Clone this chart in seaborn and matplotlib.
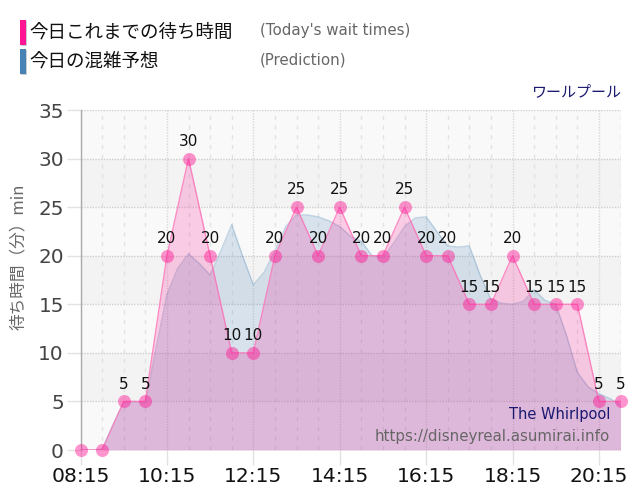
import matplotlib
matplotlib.use("Agg")
import matplotlib.pyplot as plt
from matplotlib.patches import Rectangle
import seaborn as sns
import pandas as pd

sns.set_style("white")
JP = ["Noto Sans CJK JP", "DejaVu Sans"]
plt.rcParams["font.family"] = JP

# Hours after midnight
actual_hours = [8.25, 8.75, 9.25, 9.75, 10.25, 10.75, 11.25, 11.75, 12.25, 12.75, 13.25, 13.75, 14.25,
                14.75, 15.25, 15.75, 16.25, 16.75, 17.25, 17.75, 18.25, 18.75, 19.25, 19.75, 20.25, 20.75]
actual_wait = [0, 0, 5, 5, 20, 30, 20, 10, 10, 20, 25, 20, 25,
               20, 20, 25, 20, 20, 15, 15, 20, 15, 15, 15, 5, 5]
predict_hours = [8.25, 8.5, 8.75, 9.0, 9.25, 9.5, 9.75, 10.0, 10.25, 10.5, 10.75, 11.0, 11.25, 11.5, 11.75,
                 12.0, 12.25, 12.5, 12.75, 13.0, 13.25, 13.5, 13.75, 14.0, 14.25, 14.5, 14.75, 15.0, 15.25,
                 15.5, 15.75, 16.0, 16.25, 16.5, 16.75, 17.0, 17.25, 17.5, 17.75, 18.0, 18.25, 18.5, 18.75,
                 19.0, 19.25, 19.5, 19.75, 20.0, 20.25, 20.5, 20.75]
predict_wait = [0, 0, 0.1, 2.6, 4.9, 5.0, 4.8, 10.5, 16, 18.7, 20.2, 19.2, 18, 20.5, 23.2,
                20, 17, 18.3, 20.5, 23, 24.2, 24.2, 24, 23.6, 23, 22, 21.5, 20, 19.8,
                21.3, 23, 23.9, 24, 22.5, 21, 20.9, 21, 18, 15.5, 15.1, 15, 15.3, 16.5,
                15.4, 15, 11.8, 8, 6.5, 5.8, 5.3, 4.7]
major_hours = [8.25, 10.25, 12.25, 14.25, 16.25, 18.25, 20.25]
major_labels = ["08:15", "10:15", "12:15", "14:15", "16:15", "18:15", "20:15"]
y_ticks = [0, 5, 10, 15, 20, 25, 30, 35]
legend_jp = ["今日これまでの待ち時間", "今日の混雑予想"]
legend_en = ["(Today's wait times)", "(Prediction)"]
PINK = "#ff1493"
BLUE = "#4682b4"

actual = pd.DataFrame({"h": actual_hours, "w": actual_wait})
pred = pd.DataFrame({"h": predict_hours, "w": predict_wait})

fig = plt.figure(figsize=(6.4, 5.0), dpi=100)
ax = fig.add_axes([80.5 / 640, 1 - 450 / 500, (620.5 - 80.5) / 640, 340 / 500])
ax.set_xlim(8.25, 20.75)
ax.set_ylim(0, 35)

# alternating bands
for i, lo in enumerate(range(0, 35, 5)):
    ax.axhspan(lo, lo + 5, color="#f9f9f9" if i % 2 == 0 else "#f3f3f3", lw=0, zorder=0)

# grid
for h in actual_hours:
    if h not in major_hours:
        ax.axvline(h, color="#e2e2e2", lw=1, ls=(0, (3, 4)), zorder=1)
for h in major_hours:
    ax.axvline(h, color="#d8d8d8", lw=1, ls=(0, (1, 1)), zorder=1)
ax.axvline(20.75, color="#e2e2e2", lw=1, ls=(0, (3, 4)), zorder=1)
for y in y_ticks:
    ax.axhline(y, color="#cfcfcf", lw=1, ls=(0, (1, 1)), zorder=1)

ax.fill_between(pred["h"], 0, pred["w"], color=BLUE, alpha=0.19, lw=0, zorder=2)
sns.lineplot(data=pred, x="h", y="w", ax=ax, color=BLUE, alpha=0.3, lw=1, zorder=3, errorbar=None)
ax.fill_between(actual["h"], 0, actual["w"], color=PINK, alpha=0.2, lw=0, zorder=4)
sns.lineplot(data=actual, x="h", y="w", ax=ax, color="#ff69b4", alpha=0.75, lw=1, zorder=5, errorbar=None)
sns.scatterplot(data=actual, x="h", y="w", ax=ax, color=PINK, alpha=0.45, s=88, linewidth=0, zorder=6, clip_on=False)

for h, w in zip(actual_hours, actual_wait):
    if w > 0:
        ax.annotate(str(w), (h, w), xytext=(0, 7), textcoords="offset points", ha="center", va="bottom",
                    fontsize=11, color="#111111", family="DejaVu Sans", zorder=7)

for s in ("top", "right", "bottom"):
    ax.spines[s].set_visible(False)
ax.spines["left"].set_color("#aaaaaa")
ax.spines["left"].set_linewidth(1)
ax.set_xlabel("")
ax.set_ylabel("")
ax.set_xticks(major_hours, major_labels, fontsize=14.6, color="#111111", family="DejaVu Sans")
ax.set_yticks(y_ticks, [str(y) for y in y_ticks], fontsize=14.4, color="#444444", family="DejaVu Sans")
ax.tick_params(axis="x", length=11, width=1, color="#e2e2e2", pad=1)
ax.tick_params(axis="y", length=10, width=1, color="#e2e2e2", pad=2)
ax.tick_params(left=True, bottom=True)

def px(x, y):
    return x / 640, 1 - y / 500

fig.text(*px(18, 257), "待ち時間（分）min", rotation=90, ha="center", va="center", fontsize=12, color="#666666", family=JP)

fig.text(*px(621, 92), "ワールプール", ha="right", va="center", fontsize=10.8, color="#191970", family=JP)
fig.text(*px(610, 415), "The Whirlpool", ha="right", va="center", fontsize=10.5, color="#191970", family="DejaVu Sans", zorder=8)
fig.text(*px(610, 436), "https://disneyreal.asumirai.info", ha="right", va="center", fontsize=10.8, color="#666666", family="DejaVu Sans", zorder=8)

for i, (c, jp, en) in enumerate(zip((PINK, BLUE), legend_jp, legend_en)):
    top = 20 + 29 * i
    fig.add_artist(Rectangle(px(21, top + 26), 6 / 640, 25 / 500, transform=fig.transFigure, color="#cccccc", lw=0))
    fig.add_artist(Rectangle(px(20, top + 25), 6 / 640, 25 / 500, transform=fig.transFigure, color=c, lw=0))
    fig.text(*px(29, top + 13), jp, ha="left", va="center", fontsize=13.3, color="#111111", family=JP)
    fig.text(*px(260, top + 11), en, ha="left", va="center", fontsize=10.8, color="#666666", family="DejaVu Sans")

fig.savefig("out.png", dpi=100)
